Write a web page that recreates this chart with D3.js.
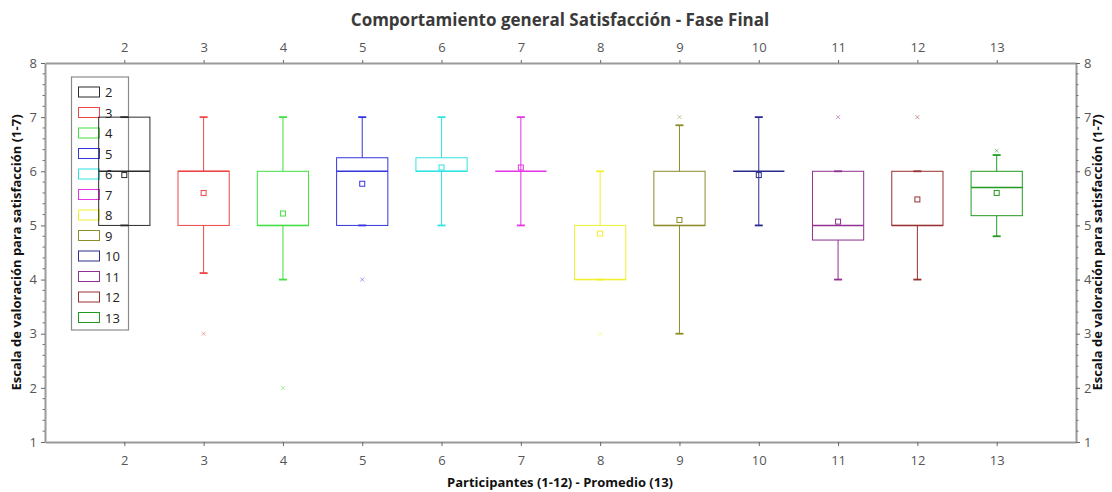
<!DOCTYPE html>
<html>
<head>
<meta charset="utf-8">
<script src="https://cdn.jsdelivr.net/npm/d3@7/dist/d3.min.js"></script>
<style>
  html, body { margin: 0; padding: 0; background: #fff; }
  svg { display: block; }
  text { font-family: "Open Sans", "DejaVu Sans", sans-serif; }
</style>
</head>
<body>
<svg id="chart" width="1112" height="492"></svg>
<script>
// Participants (2-12) and the group average (13)
const categories = [2, 3, 4, 5, 6, 7, 8, 9, 10, 11, 12, 13];
const seriesColors = ["#2a2a2a", "#ee4646", "#40e040", "#3434e0", "#30e4e4", "#e434e4",
                      "#f0f030", "#8c8c28", "#2a2a90", "#903090", "#983030", "#229a22"];
const q1Values      = [5, 5, 5, 5, 6, 6, 4, 5, 6, 4.73, 5, 5.18];
const medianValues  = [6, 6, 5, 6, 6, 6, 4, 5, 6, 5, 5, 5.7];
const q3Values      = [7, 6, 6, 6.25, 6.25, 6, 5, 6, 6, 6, 6, 6];
const whiskerLow    = [5, 4.12, 4, 5, 5, 5, 4, 3, 5, 4, 4, 4.8];
const whiskerHigh   = [7, 7, 7, 7, 7, 7, 6, 6.85, 7, 6, 6, 6.3];
const meanValues    = [5.93, 5.6, 5.22, 5.77, 6.07, 6.07, 4.85, 5.1, 5.93, 5.07, 5.48, 5.6];
const outlierValues = [[], [3], [2], [4], [], [], [3], [7], [], [7], [7], [6.38]];
const yTicks = [1, 2, 3, 4, 5, 6, 7, 8];

const title = "Comportamiento general Satisfacción - Fase Final";
const xTitle = "Participantes (1-12) - Promedio (13)";
const yTitle = "Escala de valoración para satisfacción (1-7)";

const svg = d3.select("#chart");
const plotLeft = 45, plotRight = 1076, plotTop = 63, plotBottom = 442;
const axisColor = "#9a9a9a", labelColor = "#555";

const x = d3.scaleLinear().domain([1, 14]).range([plotLeft, plotRight]);
const y = d3.scaleLinear().domain([1, 8]).range([plotBottom, plotTop]);
const boxHalf = 0.323; // half box width in category units

// Title and axis titles
svg.append("text").attr("x", 560).attr("y", 26).attr("text-anchor", "middle")
  .attr("font-size", 17).attr("font-weight", "bold").attr("fill", "#3a3a3a").text(title);
svg.append("text").attr("x", 560).attr("y", 487).attr("text-anchor", "middle")
  .attr("font-size", 13).attr("font-weight", "bold").attr("fill", "#111").text(xTitle);
[21, 1102].forEach(tx => {
  svg.append("text").attr("transform", `translate(${tx},${(plotTop + plotBottom) / 2}) rotate(-90)`)
    .attr("text-anchor", "middle").attr("font-size", 13).attr("font-weight", "bold")
    .attr("fill", "#111").text(yTitle);
});

// Axes
function styleAxis(g) {
  g.select(".domain").attr("stroke", axisColor).attr("stroke-width", 2);
  g.selectAll(".tick line").attr("stroke", "#666");
  g.selectAll(".tick text").attr("fill", labelColor).attr("font-size", 13)
    .attr("font-family", "'Open Sans', sans-serif");
}
const minorY = d3.range(1, 8.001, 0.2).filter(v => Math.abs(v - Math.round(v)) > 1e-6);

svg.append("g").attr("transform", `translate(0,${plotBottom})`)
  .call(d3.axisBottom(x).tickValues(categories).tickFormat(d3.format("d")).tickSize(4).tickSizeOuter(0).tickPadding(10))
  .call(styleAxis);
svg.append("g").attr("transform", `translate(0,${plotTop})`)
  .call(d3.axisTop(x).tickValues(categories).tickFormat(d3.format("d")).tickSize(3).tickSizeOuter(0).tickPadding(8))
  .call(styleAxis);
svg.append("g").attr("transform", `translate(${plotLeft},0)`)
  .call(d3.axisLeft(y).tickValues(yTicks).tickFormat(d3.format("d")).tickSize(4).tickSizeOuter(0).tickPadding(4))
  .call(styleAxis);
svg.append("g").attr("transform", `translate(${plotRight},0)`)
  .call(d3.axisRight(y).tickValues(yTicks).tickFormat(d3.format("d")).tickSize(4).tickSizeOuter(0).tickPadding(4))
  .call(styleAxis);
// minor ticks on both value axes
svg.append("g").selectAll("line").data(minorY).join("line")
  .attr("x1", plotLeft - 2.5).attr("x2", plotLeft).attr("y1", d => y(d)).attr("y2", d => y(d))
  .attr("stroke", "#777");
svg.append("g").selectAll("line").data(minorY).join("line")
  .attr("x1", plotRight).attr("x2", plotRight + 2.5).attr("y1", d => y(d)).attr("y2", d => y(d))
  .attr("stroke", "#777");

// Legend
const legend = svg.append("g");
const legTop = 77, legLeft = 71.5, rowH = 20.5;
legend.append("rect").attr("x", legLeft).attr("y", legTop).attr("width", 57).attr("height", 253)
  .attr("fill", "#fff").attr("stroke", "#8a8a8a").attr("stroke-width", 1.2);
categories.forEach((c, i) => {
  const cy = legTop + 15 + i * rowH;
  legend.append("rect").attr("x", 78.5).attr("y", cy - 5).attr("width", 21).attr("height", 10)
    .attr("fill", "none").attr("stroke", seriesColors[i]).attr("stroke-width", 1);
  legend.append("text").attr("x", 105).attr("y", cy + 5).attr("font-size", 13)
    .attr("fill", "#222").text(c);
});

// Box plots
const boxes = svg.append("g");
categories.forEach((c, i) => {
  const col = seriesColors[i];
  const g = boxes.append("g").attr("stroke", col).attr("fill", "none");
  const cx = x(c), x0 = x(c - boxHalf), x1 = x(c + boxHalf);
  // whiskers
  g.append("line").attr("x1", cx).attr("x2", cx).attr("y1", y(q3Values[i])).attr("y2", y(whiskerHigh[i]));
  g.append("line").attr("x1", cx).attr("x2", cx).attr("y1", y(q1Values[i])).attr("y2", y(whiskerLow[i]));
  [whiskerLow[i], whiskerHigh[i]].forEach(v => {
    g.append("line").attr("x1", cx - 4).attr("x2", cx + 4).attr("y1", y(v)).attr("y2", y(v))
      .attr("stroke-width", 1.8);
  });
  // box
  g.append("rect").attr("x", x0).attr("y", y(q3Values[i]))
    .attr("width", x1 - x0).attr("height", Math.max(0, y(q1Values[i]) - y(q3Values[i])))
    .attr("stroke-width", 1);
  // median
  g.append("line").attr("x1", x0).attr("x2", x1).attr("y1", y(medianValues[i])).attr("y2", y(medianValues[i]))
    .attr("stroke-width", 1.4);
  // mean
  g.append("rect").attr("x", cx - 2.5).attr("y", y(meanValues[i]) - 2.5).attr("width", 5).attr("height", 5)
    .attr("stroke-width", 1);
  // outliers
  outlierValues[i].forEach(v => {
    const oy = y(v);
    g.append("path").attr("d", `M${cx - 2},${oy - 2}L${cx + 2},${oy + 2}M${cx - 2},${oy + 2}L${cx + 2},${oy - 2}`)
      .attr("stroke-width", 0.8).attr("opacity", 0.6);
  });
});
</script>
</body>
</html>
